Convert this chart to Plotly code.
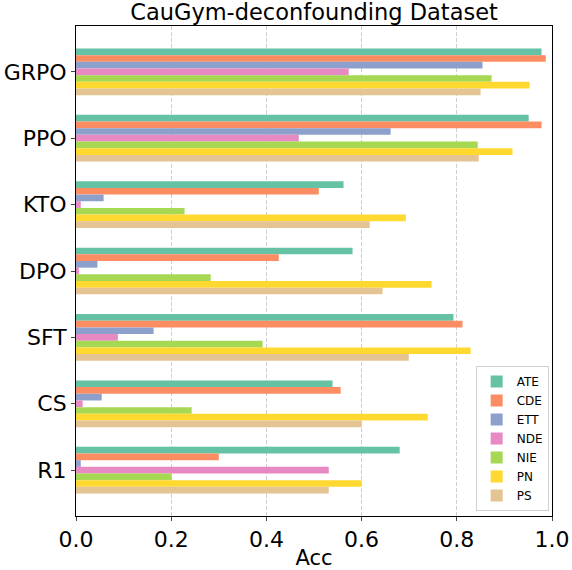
import plotly.graph_objects as go

methods = ["GRPO", "PPO", "KTO", "DPO", "SFT", "CS", "R1"]
metrics = ["ATE", "CDE", "ETT", "NDE", "NIE", "PN", "PS"]
colors = ["#66c2a5", "#fc8d62", "#8da0cb", "#e78ac3", "#a6d854", "#ffd92f", "#e5c494"]

ATE = [0.978, 0.951, 0.562, 0.581, 0.793, 0.539, 0.680]
CDE = [0.987, 0.978, 0.510, 0.426, 0.812, 0.556, 0.300]
ETT = [0.854, 0.661, 0.058, 0.045, 0.163, 0.054, 0.010]
NDE = [0.573, 0.468, 0.010, 0.006, 0.088, 0.014, 0.531]
NIE = [0.873, 0.844, 0.228, 0.283, 0.392, 0.243, 0.201]
PN = [0.953, 0.917, 0.693, 0.747, 0.829, 0.739, 0.600]
PS = [0.850, 0.846, 0.617, 0.644, 0.699, 0.600, 0.531]

series = [ATE, CDE, ETT, NDE, NIE, PN, PS]

fig = go.Figure()
for name, vals, col in zip(metrics, series, colors):
    fig.add_trace(go.Bar(x=vals, y=methods, orientation="h", name=name,
                         marker=dict(color=col, line=dict(width=0))))

font = "DejaVu Sans, Arial, sans-serif"
fig.update_layout(
    width=572, height=570,
    margin=dict(l=76, r=20, t=26, b=54, autoexpand=False),
    paper_bgcolor="white", plot_bgcolor="white",
    barmode="group", bargap=0.297, bargroupgap=0,
    font=dict(family=font, color="black"),
    title=dict(text="CauGym-deconfounding Dataset", xref="paper", x=0.5, xanchor="center",
               y=0.978, yanchor="middle", font=dict(size=22.5, family=font)),
    xaxis=dict(range=[0, 1], tickvals=[0, 0.2, 0.4, 0.6, 0.8, 1.0],
               ticktext=["0.0", "0.2", "0.4", "0.6", "0.8", "1.0"],
               tickfont=dict(size=22), ticks="outside", ticklen=4,
               showline=True, linecolor="black", linewidth=1, mirror=True,
               showgrid=True, gridcolor="#cfcfcf", griddash="4px,2px", gridwidth=1,
               zeroline=False, automargin=False,
               title=dict(text="Acc", font=dict(size=21), standoff=3)),
    yaxis=dict(range=[6.69, -0.69], tickfont=dict(size=22), ticks="outside", ticklen=4,
               showline=True, linecolor="black", linewidth=1, mirror=True,
               showgrid=False, zeroline=False, automargin=False),
    legend=dict(x=0.993, y=0.01, xanchor="right", yanchor="bottom",
                bgcolor="rgba(255,255,255,0.8)", bordercolor="#d0d0d0", borderwidth=1,
                font=dict(size=12), tracegroupgap=0, itemwidth=30),
)

fig.write_html("out.html", config={"displayModeBar": False},
               post_script="document.body.style.margin='0';document.body.style.overflow='hidden';")
